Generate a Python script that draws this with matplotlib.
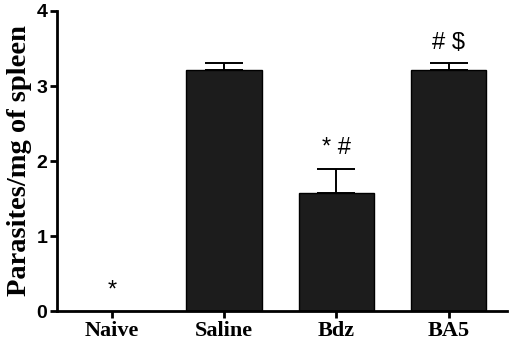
import matplotlib
matplotlib.use("Agg")
import matplotlib.pyplot as plt

categories = ["Naive", "Saline", "Bdz", "BA5"]
values = [0.0, 3.21, 1.58, 3.21]
errors = [0.0, 0.10, 0.31, 0.10]
annotations = ["*", "", "* #", "# $"]
annot_y = [0.28, None, 2.17, 3.57]
yticks = [0, 1, 2, 3, 4]

fig = plt.figure(figsize=(5.10, 3.43), dpi=100)
ax = fig.add_axes([0.112, 0.093, 0.882, 0.875])

x = list(range(len(categories)))
ax.bar(x, values, width=0.675, color="#1c1c1c", edgecolor="black", linewidth=1.0, zorder=2)
for xi, v, e in zip(x, values, errors):
    if e > 0:
        ax.errorbar([xi], [v], yerr=[[0], [e]], fmt="none", ecolor="black",
                    elinewidth=1.4, capsize=13.5, capthick=1.4, zorder=3)

for xi, t, ty in zip(x, annotations, annot_y):
    if t:
        ax.text(xi, ty, t, ha="center", va="center", fontsize=17,
                family="Liberation Sans", color="black")

ax.set_xlim(-0.49, 3.52)
ax.set_ylim(0, 4)
ax.set_yticks(yticks)
ax.set_xticks(x)
ax.set_xticklabels(categories, family="Liberation Serif", fontweight="bold", fontsize=16)
ax.set_yticklabels([str(t) for t in yticks], family="Liberation Sans", fontweight="bold", fontsize=14)
ax.set_ylabel("Parasites/mg of spleen", family="Liberation Serif", fontweight="bold", fontsize=20.5, labelpad=3)

for s in ["top", "right"]:
    ax.spines[s].set_visible(False)
for s in ["left", "bottom"]:
    ax.spines[s].set_linewidth(2.0)
ax.tick_params(axis="both", direction="out", length=5, width=2.0, pad=2)

fig.savefig("out.png", dpi=100)
